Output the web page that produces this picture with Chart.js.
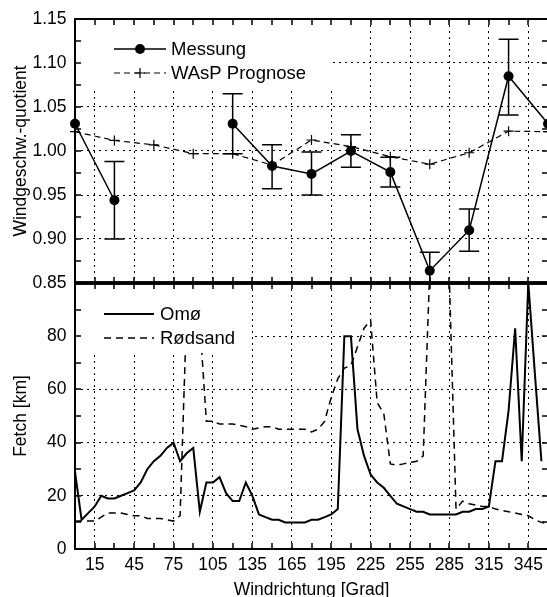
<!DOCTYPE html>
<html><head><meta charset="utf-8">
<script src="https://cdn.jsdelivr.net/npm/chart.js@4.4.1/dist/chart.umd.min.js"></script>
<style>
html,body{margin:0;padding:0;background:#fff;overflow:hidden;width:547px;height:597px;}
#wrap{position:relative;width:547px;height:597px;overflow:hidden;background:#fff;}
#c2{position:absolute;left:0;top:264px;}
#c1{position:absolute;left:0;top:0;}
</style></head><body>
<div id="wrap">
<canvas id="c2" width="560" height="351" style="width:560px;height:351px"></canvas>
<canvas id="c1" width="560" height="302" style="width:560px;height:302px"></canvas>
</div>
<script>
// ---------- DATA ----------
const xTicks = [15, 45, 75, 105, 135, 165, 195, 225, 255, 285, 315, 345];
const xMinorTicks = [0, 15, 30, 45, 60, 75, 90, 105, 120, 135, 150, 165, 180, 195, 210, 225, 240, 255, 270, 285, 300, 315, 330, 345, 360];
const yTicksTop = [0.85, 0.90, 0.95, 1.00, 1.05, 1.10, 1.15];
const yMinorTop = [0.85, 0.875, 0.90, 0.925, 0.95, 0.975, 1.00, 1.025, 1.05, 1.075, 1.10, 1.125, 1.15];
const yTicksBottom = [0, 20, 40, 60, 80, 100];
const yMinorBottom = [0, 10, 20, 30, 40, 50, 60, 70, 80, 90, 100];

const messDirs   = [0, 30, 60, 90, 120, 150, 180, 210, 240, 270, 300, 330, 360];
const messung    = [1.031, 0.944, null, null, 1.031, 0.983, 0.974, 1.000, 0.976, 0.864, 0.910, 1.085, 1.031];
const messErrLow = [null, 0.900, null, null, 0.997, 0.957, 0.950, 0.9815, 0.959, 0.843, 0.886, 1.041, null];
const messErrHigh= [null, 0.988, null, null, 1.065, 1.007, 0.999, 1.0185, 0.993, 0.885, 0.934, 1.127, null];
const wasp       = [1.022, 1.012, 1.007, 0.997, 0.997, 0.984, 1.0125, 1.005, 0.9935, 0.985, 0.998, 1.0225, 1.022];

const fetchDirs = [0, 5, 10, 15, 20, 25, 30, 35, 40, 45, 50, 55, 60, 65, 70, 75, 80, 85, 90, 95,
  100, 105, 110, 115, 120, 125, 130, 135, 140, 145, 150, 155, 160, 165, 170, 175, 180, 185, 190, 195,
  200, 205, 210, 215, 220, 225, 230, 235, 240, 245, 250, 255, 260, 265, 270, 275, 280, 285, 290, 295,
  300, 305, 310, 315, 320, 325, 330, 335, 340, 345, 350, 355, 360];
const omo = [29, 11, 13.5, 16, 20, 19, 19, 20, 21, 22, 25, 30, 33, 35, 38, 40, 33, 36, 38, 14,
  25, 25, 27, 21, 18, 18, 25, 20, 13, 12, 11, 11, 10, 10, 10, 10, 11, 11, 12, 13,
  15, 80, 80, 45, 35, 28, 25, 23, 20, 17, 16, 15, 14, 14, 13, 13, 13, 13, 13, 14,
  14, 15, 15, 16, 33, 33, 52, 83, 33, 100, 66, 33, null];
const rodsand = [10.5, 10.5, 10.5, 10.5, 12, 13.5, 13.5, 13.5, 13, 12.5, 12.5, 11.5, 11.5, 11.5, 11, 10.5, 12.5, 90, 95, 85,
  48, 48, 47, 47, 47, 46.5, 46, 45, 45.5, 46, 46, 45, 45, 45, 45, 45, 44, 45, 48, 57,
  64, 68, 69, 76, 83, 86, 55, 51, 32, 31.5, 32, 32.5, 33, 35, 105, 110, 110, 100, 15, 18,
  17, 16.5, 16, 16, 15, 14.5, 14, 13.5, 13, 12.5, 11, 10, 9.5];

// ---------- STYLE ----------
const FONT = "'Liberation Sans', Arial, Helvetica, sans-serif";
const DOT = [2, 4];

function pts(xs, ys) { return xs.map((d, i) => ({ x: d, y: ys[i] })); }

const errorBarPlugin = {
  id: 'errbars',
  beforeDatasetsDraw(chart) {
    const { ctx, chartArea: a, scales: { x, y } } = chart;
    ctx.save();
    ctx.beginPath(); ctx.rect(a.left, a.top, a.right - a.left, a.bottom - a.top); ctx.clip();
    ctx.strokeStyle = '#000'; ctx.lineWidth = 1.5;
    messDirs.forEach((d, i) => {
      if (messErrLow[i] == null) return;
      const px = x.getPixelForValue(d);
      const p1 = y.getPixelForValue(messErrLow[i]);
      const p2 = y.getPixelForValue(messErrHigh[i]);
      ctx.beginPath();
      ctx.moveTo(px, p1); ctx.lineTo(px, p2);
      ctx.moveTo(px - 10, p1); ctx.lineTo(px + 10, p1);
      ctx.moveTo(px - 10, p2); ctx.lineTo(px + 10, p2);
      ctx.stroke();
    });
    ctx.restore();
  }
};

const framePlugin = {
  id: 'frame',
  afterDatasetsDraw(chart) {
    const cfg = chart.options.plugins.frame;
    const { ctx, chartArea: a, scales: { x, y } } = chart;
    ctx.save();
    // legend box (opaque)
    ctx.fillStyle = '#fff';
    ctx.fillRect(a.left, a.top, cfg.box.w, cfg.box.h);
    // legend entries
    ctx.font = '18.5px ' + FONT;
    ctx.textBaseline = 'middle';
    ctx.textAlign = 'left';
    chart.data.datasets.forEach((ds, i) => {
      const ly = a.top + cfg.entry.y0 + i * cfg.entry.dy;
      const x1 = a.left + cfg.entry.x1, x2 = a.left + cfg.entry.x2;
      ctx.strokeStyle = '#000';
      ctx.lineWidth = ds.borderWidth;
      ctx.setLineDash(ds.borderDash || []);
      ctx.beginPath(); ctx.moveTo(x1, ly); ctx.lineTo(x2, ly); ctx.stroke();
      ctx.setLineDash([]);
      const cx = (x1 + x2) / 2;
      if (ds.pointRadius > 0) {
        if (ds.pointStyle === 'cross') {
          ctx.lineWidth = ds.pointBorderWidth;
          ctx.beginPath();
          ctx.moveTo(cx - ds.pointRadius, ly); ctx.lineTo(cx + ds.pointRadius, ly);
          ctx.moveTo(cx, ly - ds.pointRadius); ctx.lineTo(cx, ly + ds.pointRadius);
          ctx.stroke();
        } else {
          ctx.fillStyle = '#000';
          ctx.beginPath(); ctx.arc(cx, ly, ds.pointRadius, 0, Math.PI * 2); ctx.fill();
        }
      }
      ctx.fillStyle = '#000';
      ctx.fillText(ds.label, a.left + cfg.entry.tx, ly + 1);
    });
    // inward ticks
    ctx.strokeStyle = '#000';
    ctx.lineWidth = 1.5;
    const TL = 6;
    ctx.beginPath();
    xMinorTicks.forEach(v => {
      const px = Math.round(x.getPixelForValue(v));
      ctx.moveTo(px, a.top); ctx.lineTo(px, a.top + TL);
      ctx.moveTo(px, a.bottom); ctx.lineTo(px, a.bottom - TL);
    });
    cfg.yMinor.forEach(v => {
      const py = Math.round(y.getPixelForValue(v));
      ctx.moveTo(a.left, py); ctx.lineTo(a.left + TL, py);
      ctx.moveTo(a.right, py); ctx.lineTo(a.right - TL, py);
    });
    ctx.stroke();
    // frame
    ctx.lineWidth = 2;
    ctx.strokeRect(a.left, a.top, a.right - a.left, a.bottom - a.top);
    if (cfg.thick) {
      ctx.lineWidth = 3.5;
      ctx.beginPath();
      const yy = cfg.thick === 'bottom' ? a.bottom : a.top;
      ctx.moveTo(a.left, yy); ctx.lineTo(a.right, yy); ctx.stroke();
    }
    ctx.restore();
  }
};

const tickFont = { family: FONT, size: 17.5 };

function xScale(showLabels) {
  return {
    type: 'linear', min: 0, max: 360,
    afterBuildTicks: s => { s.ticks = xTicks.map(v => ({ value: v })); },
    ticks: { display: showLabels, font: tickFont, color: '#000', padding: 6, maxRotation: 0, autoSkip: false },
    grid: { color: '#000', lineWidth: 1, drawTicks: false },
    border: { display: false, dash: DOT },
    title: showLabels ? { display: true, text: 'Windrichtung [Grad]', font: tickFont, color: '#000', padding: { top: 0, bottom: 14 } } : { display: false },
    afterFit: s => { s.height = showLabels ? 66 : 0; }
  };
}

// ---------- TOP CHART ----------
new Chart(document.getElementById('c1'), {
  type: 'line',
  data: {
    datasets: [
      { label: 'Messung', data: pts(messDirs, messung), borderColor: '#000', backgroundColor: '#000',
        borderWidth: 1.5, pointRadius: 5, pointBackgroundColor: '#000', pointBorderColor: '#000', pointBorderWidth: 0,
        spanGaps: false, clip: { left: 10, right: 10, top: 10, bottom: 0 }, order: 0 },
      { label: 'WAsP Prognose', data: pts(messDirs, wasp), borderColor: '#000', backgroundColor: '#000',
        borderWidth: 1.2, borderDash: [6, 4], pointStyle: 'cross', pointRadius: 5, pointBorderWidth: 1.2,
        pointBorderColor: '#000', clip: { left: 10, right: 10, top: 10, bottom: 0 }, order: 1 }
    ]
  },
  options: {
    responsive: false, animation: false, devicePixelRatio: 1,
    layout: { padding: { top: 19, bottom: 19, left: 0, right: 12 } },
    plugins: {
      legend: { display: false }, tooltip: { enabled: false },
      frame: { box: { w: 258, h: 69 }, entry: { y0: 30, dy: 24, x1: 39, x2: 91, tx: 96 }, yMinor: yMinorTop, thick: 'bottom' }
    },
    scales: {
      x: xScale(false),
      y: {
        min: 0.85, max: 1.15,
        afterBuildTicks: s => { s.ticks = yTicksTop.map(v => ({ value: v })); },
        ticks: { font: tickFont, color: '#000', padding: 8.5, callback: v => Number(v).toFixed(2) },
        grid: { color: '#000', lineWidth: 1, drawTicks: false },
        border: { display: false, dash: DOT },
        title: { display: true, text: 'Windgeschw.-quotient', font: tickFont, color: '#000', padding: { top: 11, bottom: 0 } },
        afterFit: s => { s.width = 75; }
      }
    }
  },
  plugins: [errorBarPlugin, framePlugin]
});

// ---------- BOTTOM CHART ----------
new Chart(document.getElementById('c2'), {
  type: 'line',
  data: {
    datasets: [
      { label: 'Omø', data: pts(fetchDirs, omo), borderColor: '#000', borderWidth: 2, pointRadius: 0, spanGaps: false },
      { label: 'Rødsand', data: pts(fetchDirs, rodsand), borderColor: '#000', borderWidth: 1.5, borderDash: [7, 5], pointRadius: 0 }
    ]
  },
  options: {
    responsive: false, animation: false, devicePixelRatio: 1,
    layout: { padding: { top: 19, bottom: 0, left: 0, right: 12 } },
    plugins: {
      legend: { display: false }, tooltip: { enabled: false },
      frame: { box: { w: 177, h: 70 }, entry: { y0: 31, dy: 24, x1: 29, x2: 79, tx: 85 }, yMinor: yMinorBottom, thick: 'top' }
    },
    scales: {
      x: xScale(true),
      y: {
        min: 0, max: 100,
        afterBuildTicks: s => { s.ticks = yTicksBottom.map(v => ({ value: v })); },
        ticks: { font: tickFont, color: '#000', padding: 8.5, callback: v => (v === 100 ? '' : String(v)) },
        grid: { color: '#000', lineWidth: 1, drawTicks: false },
        border: { display: false, dash: DOT },
        title: { display: true, text: 'Fetch [km]', font: tickFont, color: '#000', padding: { top: 11, bottom: 0 } },
        afterFit: s => { s.width = 75; }
      }
    }
  },
  plugins: [framePlugin]
});
</script>
</body></html>
